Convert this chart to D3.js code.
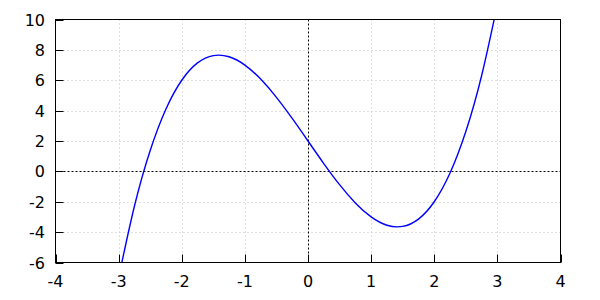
<!DOCTYPE html>
<html>
<head>
<meta charset="utf-8">
<script src="https://cdn.jsdelivr.net/npm/d3@7"></script>
<style>
  body { margin: 0; background: #fff; }
  svg { display: block; }
  text { font-family: "DejaVu Sans", sans-serif; font-size: 16px; fill: #000; }
</style>
</head>
<body>
<div id="chart"></div>
<script>
const xs = [-3, -2.75, -2.5, -2.25, -2, -1.75, -1.5, -1.25, -1, -0.75, -0.5, -0.25,
            0, 0.25, 0.5, 0.75, 1, 1.25, 1.5, 1.75, 2, 2.25, 2.5, 2.75, 3];
const ys = [-7, -2.297, 1.375, 4.109, 6, 7.141, 7.625, 7.547, 7, 6.078, 4.875, 3.484,
            2, 0.516, -0.875, -2.078, -3, -3.547, -3.625, -3.141, -2, -0.109, 2.625, 6.297, 11];
const xTicks = [-4, -3, -2, -1, 0, 1, 2, 3, 4];
const yTicks = [-6, -4, -2, 0, 2, 4, 6, 8, 10];

const W = 600, H = 300;
const m = { left: 55.5, right: 560.5, top: 19.5, bottom: 262.5 };

const svg = d3.select('#chart').append('svg').attr('width', W).attr('height', H);

const x = d3.scaleLinear().domain([-4, 4]).range([m.left, m.right]);
const y = d3.scaleLinear().domain([-6, 10]).range([m.bottom, m.top]);

svg.append('clipPath').attr('id', 'clip')
  .append('rect').attr('x', m.left).attr('y', m.top)
  .attr('width', m.right - m.left).attr('height', m.bottom - m.top);

// grid
const grid = svg.append('g').attr('stroke', '#c0c0c0').attr('stroke-width', 1)
  .attr('stroke-dasharray', '1,3');
xTicks.slice(1, -1).filter(d => d !== 0).forEach(d => {
  grid.append('line').attr('x1', Math.round(x(d)) + 0.5).attr('x2', Math.round(x(d)) + 0.5)
    .attr('y1', m.top).attr('y2', m.bottom);
});
yTicks.slice(1, -1).filter(d => d !== 0).forEach(d => {
  grid.append('line').attr('y1', Math.round(y(d)) + 0.5).attr('y2', Math.round(y(d)) + 0.5)
    .attr('x1', m.left).attr('x2', m.right);
});

// zero axes
const zero = svg.append('g').attr('stroke', '#000').attr('stroke-width', 1)
  .attr('stroke-dasharray', '2,2');
zero.append('line').attr('x1', Math.round(x(0)) + 0.5).attr('x2', Math.round(x(0)) + 0.5)
  .attr('y1', m.top).attr('y2', m.bottom);
zero.append('line').attr('y1', Math.round(y(0)) + 0.5).attr('y2', Math.round(y(0)) + 0.5)
  .attr('x1', m.left).attr('x2', m.right);

// ticks (inward, bottom and left only)
const ticks = svg.append('g').attr('stroke', '#000').attr('stroke-width', 1);
xTicks.forEach(d => {
  const px = Math.round(x(d)) + 0.5;
  ticks.append('line').attr('x1', px).attr('x2', px).attr('y1', m.bottom).attr('y2', m.bottom - 8);
  svg.append('text').attr('x', x(d)).attr('y', 287).attr('text-anchor', 'middle').text(d);
});
yTicks.forEach(d => {
  const py = Math.round(y(d)) + 0.5;
  ticks.append('line').attr('x1', m.left).attr('x2', m.left + 8).attr('y1', py).attr('y2', py);
  svg.append('text').attr('x', 45).attr('y', y(d) + 6).attr('text-anchor', 'end').text(d);
});

// curve
const line = d3.line().x((d, i) => x(xs[i])).y(d => y(d)).curve(d3.curveNatural);
svg.append('path').datum(ys).attr('clip-path', 'url(#clip)')
  .attr('fill', 'none').attr('stroke', '#0000ff').attr('stroke-width', 1.4)
  .attr('d', line);

// frame
svg.append('rect').attr('x', m.left).attr('y', m.top)
  .attr('width', m.right - m.left).attr('height', m.bottom - m.top)
  .attr('fill', 'none').attr('stroke', '#000').attr('stroke-width', 1);
</script>
</body>
</html>
